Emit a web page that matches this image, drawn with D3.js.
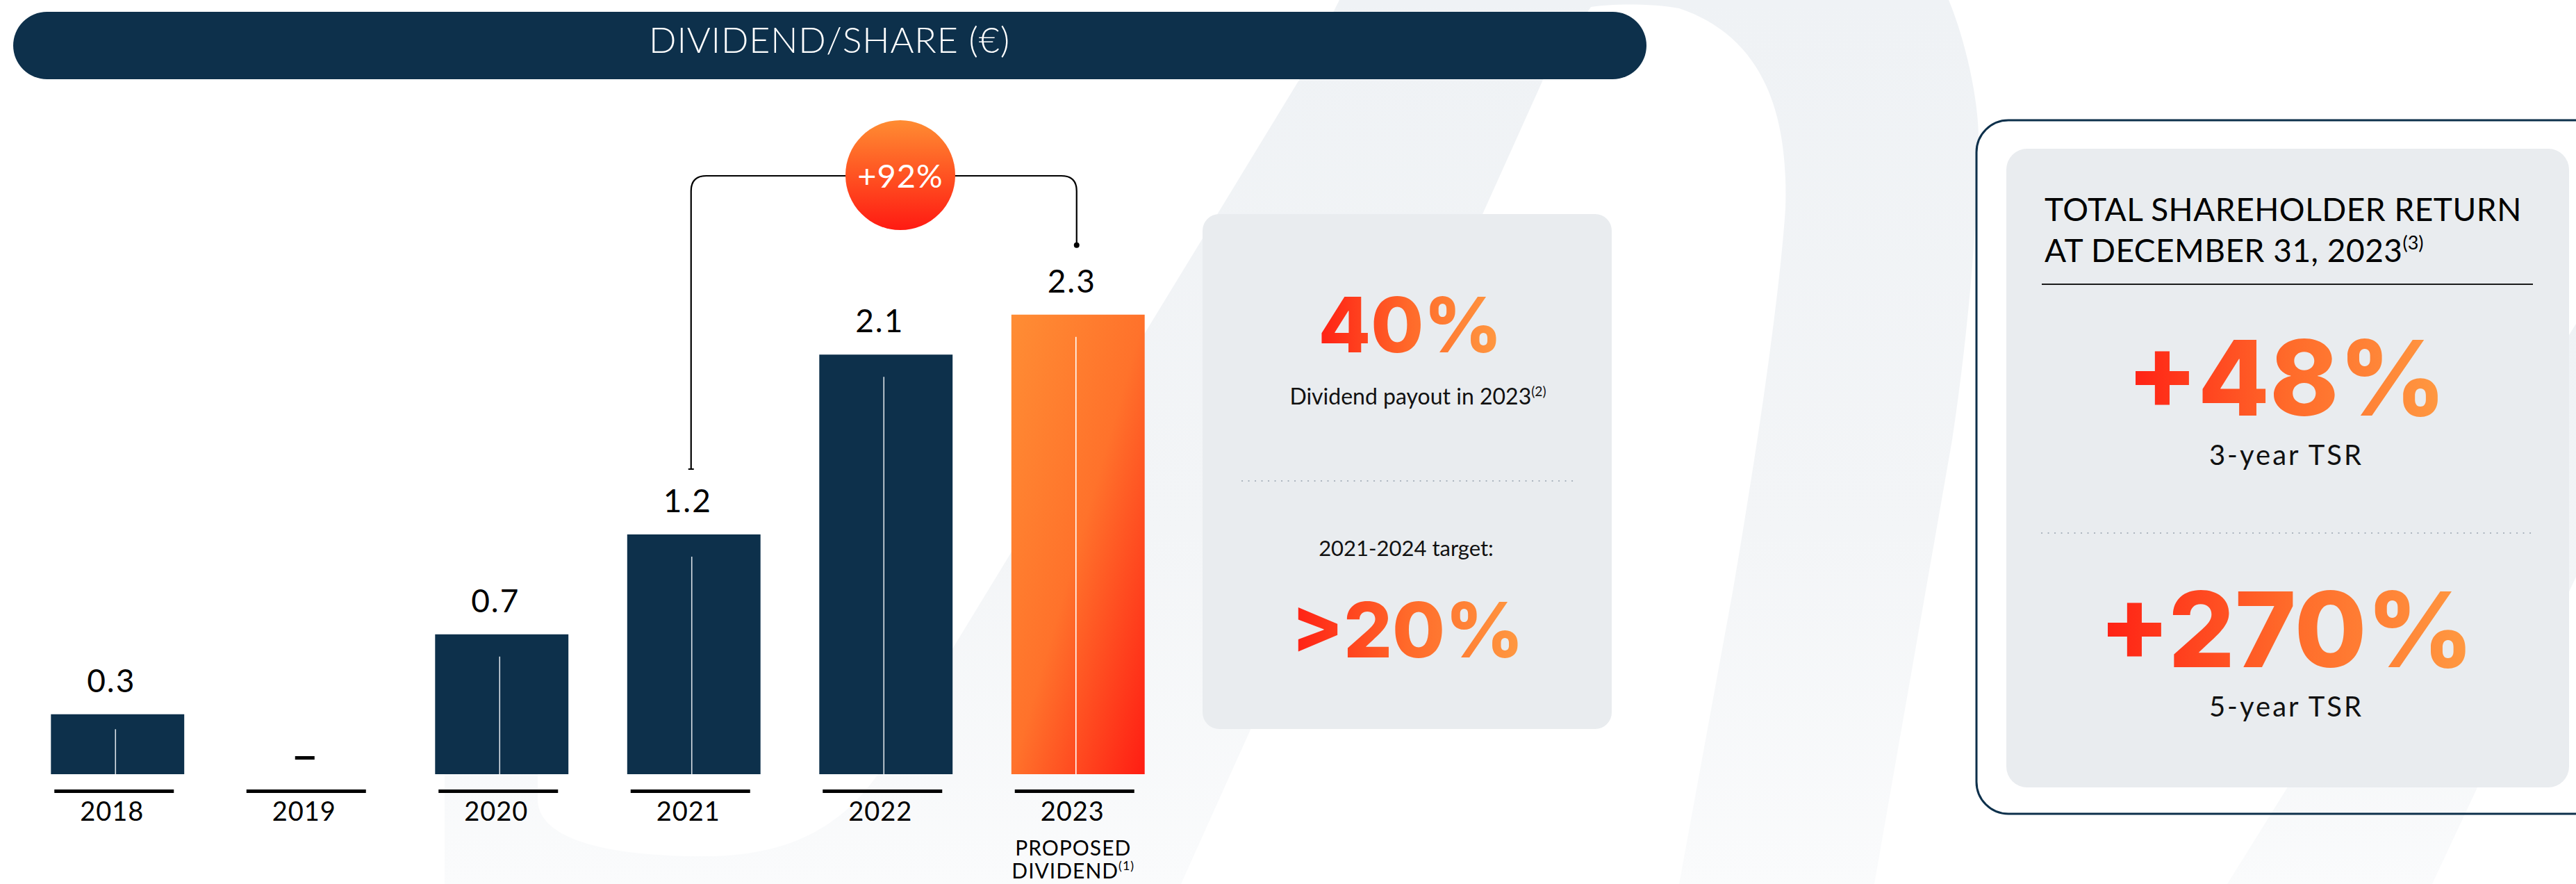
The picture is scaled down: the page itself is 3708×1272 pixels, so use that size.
<!DOCTYPE html>
<html>
<head>
<meta charset="utf-8">
<script src="https://cdn.jsdelivr.net/npm/d3@7/dist/d3.min.js"></script>
<style>
  body { margin: 0; background: #fff; }
  svg { display: block; }
</style>
</head>
<body>
<script>
// dividend per share, in euros
var years = ["2018", "2019", "2020", "2021", "2022", "2023"];
var dividends = [0.3, 0, 0.7, 1.2, 2.1, 2.3];
var valueLabels = ["0.3", "–", "0.7", "1.2", "2.1", "2.3"];
var growthLabel = "+92%";          // 2021 -> 2023

// middle card
var payoutValue = "40%";
var payoutCaption = "Dividend payout in 2023";
var targetCaption = "2021-2024 target:";
var targetValue = ">20%";

// right card
var tsrTitle = ["TOTAL SHAREHOLDER RETURN", "AT DECEMBER 31, 2023"];
var tsrValues = ["+48%", "+270%"];
var tsrLabels = ["3-year TSR", "5-year TSR"];

var W = 3708, H = 1272;
var navy = "#0d304b";
var font = "Lato, 'Open Sans', sans-serif";
var bigFont = "Inter, 'Open Sans', sans-serif";

var svg = d3.select("body").append("svg")
    .attr("width", W)
    .attr("height", H);

var defs = svg.append("defs");

// gradients
var bg = defs.append("linearGradient").attr("id", "bgGrad")
    .attr("x1", 0).attr("y1", 0).attr("x2", 0).attr("y2", 1);
bg.append("stop").attr("offset", 0).attr("stop-color", "#eff2f5");
bg.append("stop").attr("offset", 0.6).attr("stop-color", "#f3f5f7");
bg.append("stop").attr("offset", 1).attr("stop-color", "#fafbfc");

var barGrad = defs.append("linearGradient").attr("id", "barGrad")
    .attr("x1", 0).attr("y1", 0).attr("x2", 1).attr("y2", 1);
barGrad.append("stop").attr("offset", 0).attr("stop-color", "#ff8d34");
barGrad.append("stop").attr("offset", 0.5).attr("stop-color", "#ff722b");
barGrad.append("stop").attr("offset", 1).attr("stop-color", "#ff1d13");

var badgeGrad = defs.append("linearGradient").attr("id", "badgeGrad")
    .attr("x1", 0).attr("y1", 0).attr("x2", 0).attr("y2", 1);
badgeGrad.append("stop").attr("offset", 0).attr("stop-color", "#ff8c32");
badgeGrad.append("stop").attr("offset", 1).attr("stop-color", "#ff1a12");

var textGrad = defs.append("linearGradient").attr("id", "textGrad")
    .attr("x1", 0).attr("y1", 0).attr("x2", 1).attr("y2", 0);
textGrad.append("stop").attr("offset", 0).attr("stop-color", "#ff1f14");
textGrad.append("stop").attr("offset", 0.5).attr("stop-color", "#ff6a2a");
textGrad.append("stop").attr("offset", 1).attr("stop-color", "#ff9a42");

// faint logo shapes in the background
svg.append("path")
    .attr("fill", "url(#bgGrad)")
    .attr("d", "M1928,0 L2805,0 C2830,60 2850,150 2848,210 C2845,350 2830,500 2810,633 " +
        "L2698,1272 L2417,1272 L2494,852 C2520,700 2560,450 2570,300 C2575,150 2530,50 2417,12 " +
        "C2380,5 2320,5 2290,10 L2221,115 L1700,1272 L640,1272 L640,1000 L774,1000 L774,1150 " +
        "C774,1200 850,1232 1013,1232 C1150,1232 1240,1180 1300,1050 L1870,115 Z");
svg.append("path")
    .attr("fill", "url(#bgGrad)")
    .attr("d", "M3206,1272 L3501,1272 L3708,830 L3708,466 Z");

// title bar
svg.append("rect")
    .attr("x", 19).attr("y", 17)
    .attr("width", 2351).attr("height", 97)
    .attr("rx", 48.5)
    .attr("fill", navy);
svg.append("text")
    .attr("x", 1194).attr("y", 76)
    .attr("text-anchor", "middle")
    .attr("font-family", font)
    .attr("font-weight", 300)
    .attr("font-size", 52)
    .attr("letter-spacing", 0.8)
    .attr("fill", "#fff")
    .text("DIVIDEND/SHARE (€)");

// scales
var x = d3.scaleBand()
    .domain(years)
    .range([31, 1690])
    .paddingInner(0.306)
    .paddingOuter(0.153);

var y = d3.scaleLinear()
    .domain([0, 2.3])
    .range([1114, 1114 - 2.3 * 287.5]);

var cx = function(d) { return x(d) + x.bandwidth() / 2; };
var rows = years.map(function(yr, i) {
    return {year: yr, value: dividends[i], label: valueLabels[i], last: i == years.length - 1};
});

// bars
var bars = svg.append("g");
bars.selectAll("rect")
    .data(rows.filter(function(d) { return d.value > 0; }))
    .enter().append("rect")
    .attr("x", function(d) { return x(d.year); })
    .attr("y", function(d) { return y(d.value); })
    .attr("width", x.bandwidth())
    .attr("height", function(d) { return y(0) - y(d.value); })
    .attr("fill", function(d) { return d.last ? "url(#barGrad)" : navy; });

// thin white line inside each bar
bars.selectAll("line")
    .data(rows.filter(function(d) { return d.value > 0; }))
    .enter().append("line")
    .attr("x1", function(d) { return cx(d.year) - 3; })
    .attr("x2", function(d) { return cx(d.year) - 3; })
    .attr("y1", function(d) { return y(d.value) + Math.min(32, (y(0) - y(d.value)) * 0.25); })
    .attr("y2", y(0))
    .attr("stroke", function(d) { return d.last ? "#fff" : "#d9e0e6"; })
    .attr("stroke-width", 1.6);

// value labels
svg.append("g").selectAll("text")
    .data(rows.filter(function(d) { return d.value > 0; }))
    .enter().append("text")
    .attr("x", function(d) { return cx(d.year) - 9; })
    .attr("y", function(d) { return y(d.value) - 32; })
    .attr("text-anchor", "middle")
    .attr("font-family", font)
    .attr("font-size", 46)
    .attr("letter-spacing", 2)
    .attr("fill", "#000")
    .text(function(d) { return d.label; });

// zero year gets a dash
svg.append("g").selectAll("rect")
    .data(rows.filter(function(d) { return d.value == 0; }))
    .enter().append("rect")
    .attr("x", function(d) { return cx(d.year) - 7 - 14; })
    .attr("y", y(0) - 26)
    .attr("width", 28)
    .attr("height", 5)
    .attr("fill", "#000");

// year axis: short black rule above each year
var axis = svg.append("g");
axis.selectAll("rect")
    .data(years)
    .enter().append("rect")
    .attr("x", function(d) { return cx(d) - 5 - 86; })
    .attr("y", 1136)
    .attr("width", 172)
    .attr("height", 5)
    .attr("fill", "#000");
axis.selectAll("text")
    .data(years)
    .enter().append("text")
    .attr("x", function(d) { return cx(d) - 8; })
    .attr("y", 1181)
    .attr("text-anchor", "middle")
    .attr("font-family", font)
    .attr("font-size", 38)
    .attr("letter-spacing", 1)
    .attr("fill", "#000")
    .text(function(d) { return d; });

var lastX = cx(years[years.length - 1]) - 7;
axis.append("text")
    .attr("x", lastX).attr("y", 1231)
    .attr("text-anchor", "middle")
    .attr("font-family", font)
    .attr("font-size", 30)
    .attr("letter-spacing", 1)
    .text("PROPOSED");
var dv = axis.append("text")
    .attr("x", lastX).attr("y", 1264)
    .attr("text-anchor", "middle")
    .attr("font-family", font)
    .attr("font-size", 30)
    .attr("letter-spacing", 1);
dv.append("tspan").text("DIVIDEND");
dv.append("tspan").attr("font-size", 18).attr("dy", -12).text("(1)");

// growth bracket from 2021 to 2023
var bx0 = cx("2021") - 4, bx1 = cx("2023") - 2, btop = 253, br = 22;
var by0 = y(1.2) - 94, by1 = y(2.3) - 100;
svg.append("path")
    .attr("fill", "none")
    .attr("stroke", "#000")
    .attr("stroke-width", 2.2)
    .attr("d", "M" + bx0 + "," + by0 + " L" + bx0 + "," + (btop + br) +
        " Q" + bx0 + "," + btop + " " + (bx0 + br) + "," + btop +
        " L" + (bx1 - br) + "," + btop +
        " Q" + bx1 + "," + btop + " " + bx1 + "," + (btop + br) +
        " L" + bx1 + "," + by1);
svg.append("line")
    .attr("x1", bx0 - 4).attr("x2", bx0 + 4)
    .attr("y1", by0).attr("y2", by0)
    .attr("stroke", "#000").attr("stroke-width", 2);
svg.append("circle")
    .attr("cx", bx1).attr("cy", by1).attr("r", 4)
    .attr("fill", "#000");

svg.append("circle")
    .attr("cx", 1296).attr("cy", 252).attr("r", 79)
    .attr("fill", "url(#badgeGrad)");
svg.append("text")
    .attr("x", 1296).attr("y", 270)
    .attr("text-anchor", "middle")
    .attr("font-family", font)
    .attr("font-size", 47)
    .attr("letter-spacing", 1)
    .attr("fill", "#fff")
    .text(growthLabel);

// middle card: payout ratio
svg.append("rect")
    .attr("x", 1731).attr("y", 308)
    .attr("width", 589).attr("height", 741)
    .attr("rx", 24)
    .attr("fill", "#e9ecef");

function bigText(g, tx, ty, size, label) {
    g.append("text")
        .attr("x", tx).attr("y", ty)
        .attr("text-anchor", "middle")
        .attr("font-family", bigFont)
        .attr("font-weight", 800)
        .attr("font-size", size)
        .attr("fill", "url(#textGrad)")
        .text(label);
}
function smallText(g, tx, ty, size, spacing, label, note) {
    var t = g.append("text")
        .attr("x", tx).attr("y", ty)
        .attr("text-anchor", "middle")
        .attr("font-family", font)
        .attr("font-size", size)
        .attr("letter-spacing", spacing)
        .attr("fill", "#111");
    t.append("tspan").text(label);
    if (note) t.append("tspan").attr("font-size", size * 0.6).attr("dy", -size * 0.38).text(note);
}
function dotted(g, xa, xb, yy) {
    g.append("line")
        .attr("x1", xa).attr("x2", xb)
        .attr("y1", yy).attr("y2", yy)
        .attr("stroke", "#a3adb8")
        .attr("stroke-width", 2.2)
        .attr("stroke-linecap", "round")
        .attr("stroke-dasharray", "0.1 9.4");
}

var mid = svg.append("g");
bigText(mid, 2030, 507, 110, payoutValue);
smallText(mid, 2041, 582, 32, 0, payoutCaption, "(2)");
dotted(mid, 1788, 2266, 692);
smallText(mid, 2024, 800, 31, 0, targetCaption);
bigText(mid, 2026, 946, 110, targetValue);

// right card: total shareholder return
var right = svg.append("g");
right.append("rect")
    .attr("x", 2845).attr("y", 173)
    .attr("width", 960).attr("height", 998)
    .attr("rx", 46)
    .attr("fill", "none")
    .attr("stroke", navy)
    .attr("stroke-width", 3);
right.append("rect")
    .attr("x", 2888).attr("y", 214)
    .attr("width", 810).attr("height", 919)
    .attr("rx", 30)
    .attr("fill", "#e9ecef");

right.selectAll("text.head")
    .data(tsrTitle)
    .enter().append("text")
    .attr("class", "head")
    .attr("x", 2943)
    .attr("y", function(d, i) { return 318 + i * 59; })
    .attr("font-family", font)
    .attr("font-size", 46)
    .attr("letter-spacing", 0.5)
    .attr("fill", "#000")
    .each(function(d, i) {
        d3.select(this).append("tspan").text(d);
        if (i == 1) d3.select(this).append("tspan")
            .attr("font-size", 27).attr("dy", -18).attr("letter-spacing", 0).text("(3)");
    });
right.append("line")
    .attr("x1", 2939).attr("x2", 3646)
    .attr("y1", 409).attr("y2", 409)
    .attr("stroke", "#1b1b1b")
    .attr("stroke-width", 2);

tsrValues.forEach(function(v, i) {
    var base = [598, 960][i];
    bigText(right, 3291, base, 150, v);
    smallText(right, 3291, base + 71, 40, 3, tsrLabels[i]);
});
dotted(right, 2939, 3646, 767);
</script>
</body>
</html>
